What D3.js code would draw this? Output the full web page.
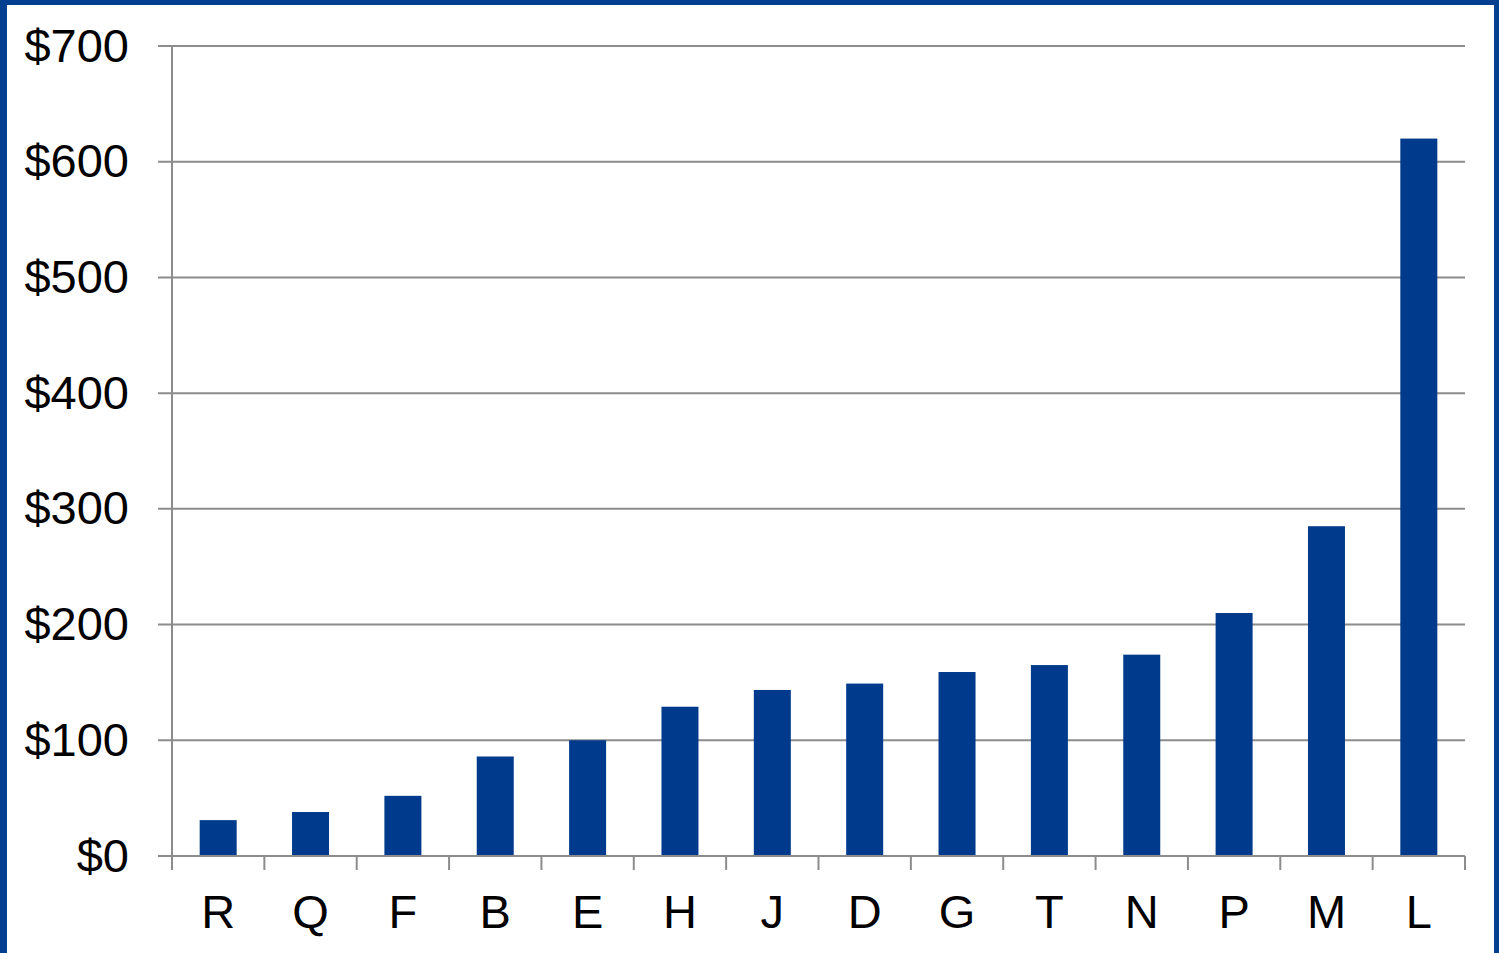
<!DOCTYPE html>
<html><head><meta charset="utf-8">
<script src="https://cdn.jsdelivr.net/npm/d3@7/dist/d3.min.js"></script>
<style>
html,body{margin:0;padding:0;background:#fff;overflow:hidden}
svg{display:block}
</style></head>
<body>
<script>
const categories = ["R","Q","F","B","E","H","J","D","G","T","N","P","M","L"];
const values = [31, 38, 52, 86, 100, 129, 143.5, 149, 159, 165, 174, 210, 285, 620];
const yTicks = [0,100,200,300,400,500,600,700];

(function(){
const W = 1499, H = 953;
const svg = d3.select("body").append("svg").attr("width", W).attr("height", H);
svg.append("rect").attr("x",0).attr("y",0).attr("width",W).attr("height",H).attr("fill","#ffffff");

// frame
const frame = "#003f8f";
svg.append("rect").attr("x",0).attr("y",0).attr("width",7).attr("height",H).attr("fill",frame);
svg.append("rect").attr("x",0).attr("y",0).attr("width",W).attr("height",5).attr("fill",frame);
svg.append("rect").attr("x",1494).attr("y",0).attr("width",5).attr("height",H).attr("fill",frame);

const pL = 172, pR = 1465, pT = 46, pB = 856;
const x = d3.scaleBand().domain(categories).range([pL, pR]).paddingInner(0).paddingOuter(0);
const y = d3.scaleLinear().domain([0,700]).range([pB, pT]);

const grid = "#8c8c8c";
svg.append("g").selectAll("line").data(yTicks).join("line")
  .attr("x1", pL-14).attr("x2", pR)
  .attr("y1", d=>y(d)).attr("y2", d=>y(d))
  .attr("stroke", grid).attr("stroke-width", 2);

svg.append("line").attr("x1",pL).attr("x2",pL).attr("y1",pT).attr("y2",pB+14)
  .attr("stroke",grid).attr("stroke-width",2);

const bounds = categories.map(c=>x(c)).concat([pR]);
svg.append("g").selectAll("line").data(bounds).join("line")
  .attr("x1", d=>d).attr("x2", d=>d).attr("y1", pB).attr("y2", pB+14)
  .attr("stroke", grid).attr("stroke-width", 2);

const bw = 37;
svg.append("g").selectAll("rect").data(values).join("rect")
  .attr("x", (d,i)=>x(categories[i]) + x.bandwidth()/2 - bw/2)
  .attr("width", bw)
  .attr("y", d=>y(d))
  .attr("height", d=>pB - y(d))
  .attr("fill", "#003a8c");

svg.append("line").attr("x1",pL-14).attr("x2",pR).attr("y1",pB).attr("y2",pB)
  .attr("stroke",grid).attr("stroke-width",2);

svg.append("g").selectAll("text").data(yTicks).join("text")
  .attr("x", 129).attr("y", d=>y(d))
  .attr("dy","0.33em")
  .attr("text-anchor","end")
  .attr("font-family","'Liberation Sans', Arial, sans-serif")
  .attr("font-size", 47)
  .attr("fill","#000")
  .text(d=>"$"+d);

svg.append("g").selectAll("text").data(categories).join("text")
  .attr("x", d=>x(d)+x.bandwidth()/2).attr("y", 928)
  .attr("text-anchor","middle")
  .attr("font-family","'Liberation Sans', Arial, sans-serif")
  .attr("font-size", 47)
  .attr("fill","#000")
  .text(d=>d);
})();
</script>
</body></html>
